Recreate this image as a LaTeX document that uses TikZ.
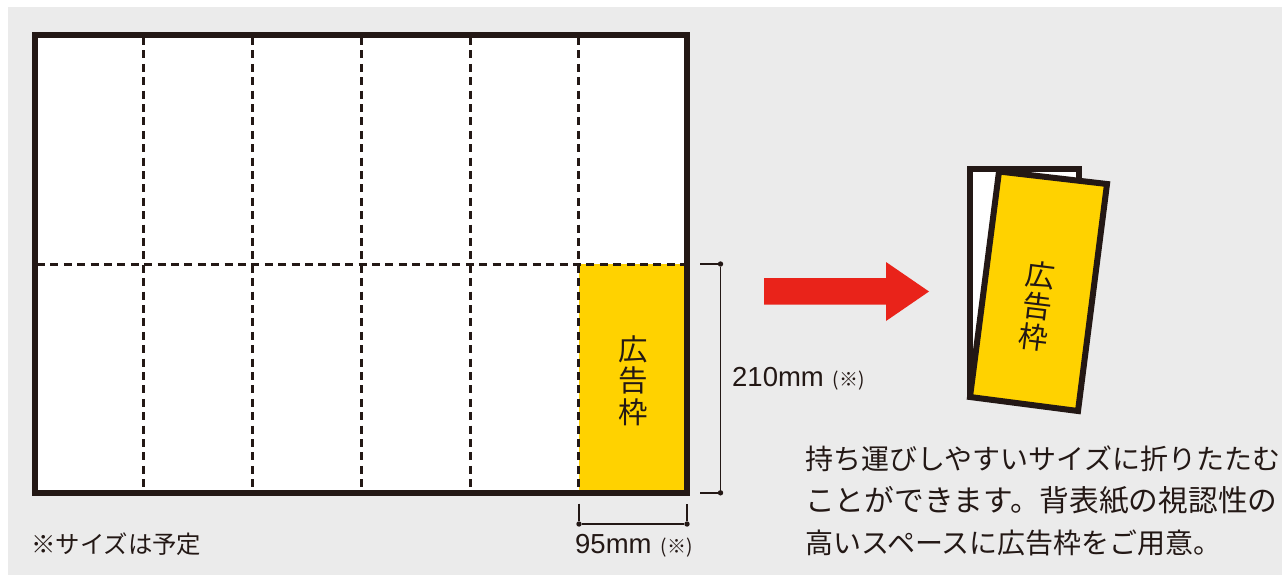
\documentclass[tikz,border=0pt]{standalone}
\usepackage{fontspec}
\setmainfont{Liberation Sans}
\newfontfamily\jp{Noto Sans CJK JP}
\definecolor{ink}{HTML}{231815}
\definecolor{pagegray}{HTML}{EBEBEB}
\definecolor{adyellow}{HTML}{FFD200}
\definecolor{arrowred}{HTML}{E9231A}
\newcommand{\fs}[1]{\fontsize{#1pt}{#1pt}\selectfont}
\tikzset{
  frame/.style={draw=ink,line width=6pt,miter limit=10},
  fold/.style={draw=ink,line width=3pt,dash pattern=on 8pt off 5.4pt},
  dimline/.style={draw=ink,line width=1.5pt},
  dimdot/.style={circle,fill=ink,inner sep=0pt,minimum size=5.4pt},
  txt/.style={inner sep=0pt,text=ink,anchor=west},
  adlabel/.style={inner sep=0pt,text=ink,align=center,font=\jp\fontsize{29.5pt}{31.5pt}\selectfont},
}
\begin{document}
\begin{tikzpicture}[x=1pt,y=-1pt]
\useasboundingbox (0,0) rectangle (1282,576);
\fill[pagegray] (8,7) rectangle (1282,575);
% sheet
\fill[white] (35,35) rectangle (687,492);
\fill[adyellow] (578.5,264) rectangle (687,492);
\foreach \x/\n in {143/a,252/b,361/c,470/d,578.5/e}{
  \coordinate (top\n) at (\x,37);
  \coordinate (bot\n) at (\x,491);
  \draw[fold] (top\n) -- (bot\n);
}
\coordinate (foldL) at (37,264);
\coordinate (foldR) at (685,264);
\draw[fold] (foldL) -- (foldR);
\draw[frame] (35,35) rectangle (687,492.5);
\node[adlabel] (adA) at (633.5,380.5) {広\\告\\枠};
% height dimension
\coordinate (hTopStart) at (700,264);
\coordinate (hBotStart) at (700,492.8);
\node[dimdot] (hTop) at (720.5,264) {};
\node[dimdot] (hBot) at (720.5,492.8) {};
\draw[dimline] (hTopStart) -- (hTop) -- (hBot) -- (hBotStart);
% width dimension
\coordinate (wLStart) at (579,503.5);
\coordinate (wRStart) at (687,503.5);
\node[dimdot] (wL) at (579,524) {};
\node[dimdot] (wR) at (687,524) {};
\draw[dimline] (wLStart) -- (wL) -- (wR) -- (wRStart);
\node[txt] (hLabel) at (732,379) {\fs{27.5}210mm\hspace{9pt}{\jp\fs{19}(※)}};
\node[txt] (wLabel) at (575,546) {\fs{27.5}95mm\hspace{9pt}{\jp\fs{19}(※)}};
\node[txt] (note) at (31,544) {\jp\fs{24.4}※サイズは予定};
% arrow
\fill[arrowred] (764,278) -- (886,278) -- (886,262) -- (929,291.5) -- (886,321) -- (886,304.5) -- (764,304.5) -- cycle;
% folded leaflet
\fill[white] (970,168.5) rectangle (1078.5,398);
\draw[frame] (970,398) -- (970,168.5) -- (1078.5,168.5) -- (1078.5,186);
\draw[frame,fill=adyellow] (999,171.5) -- (1107,184) -- (1078,411) -- (970,397) -- cycle;
\node[adlabel,rotate=-7] (adB) at (1037,306) {広\\告\\枠};
% body
\node[txt] (l1) at (805,459) {\jp\fs{28}持ち運びしやすいサイズに折りたたむ};
\node[txt] (l2) at (805,500.5) {\jp\fs{29.7}ことができます。背表紙の視認性の};
\node[txt] (l3) at (805,543) {\jp\fs{28}高いスペースに広告枠をご用意。};
\end{tikzpicture}
\end{document}
